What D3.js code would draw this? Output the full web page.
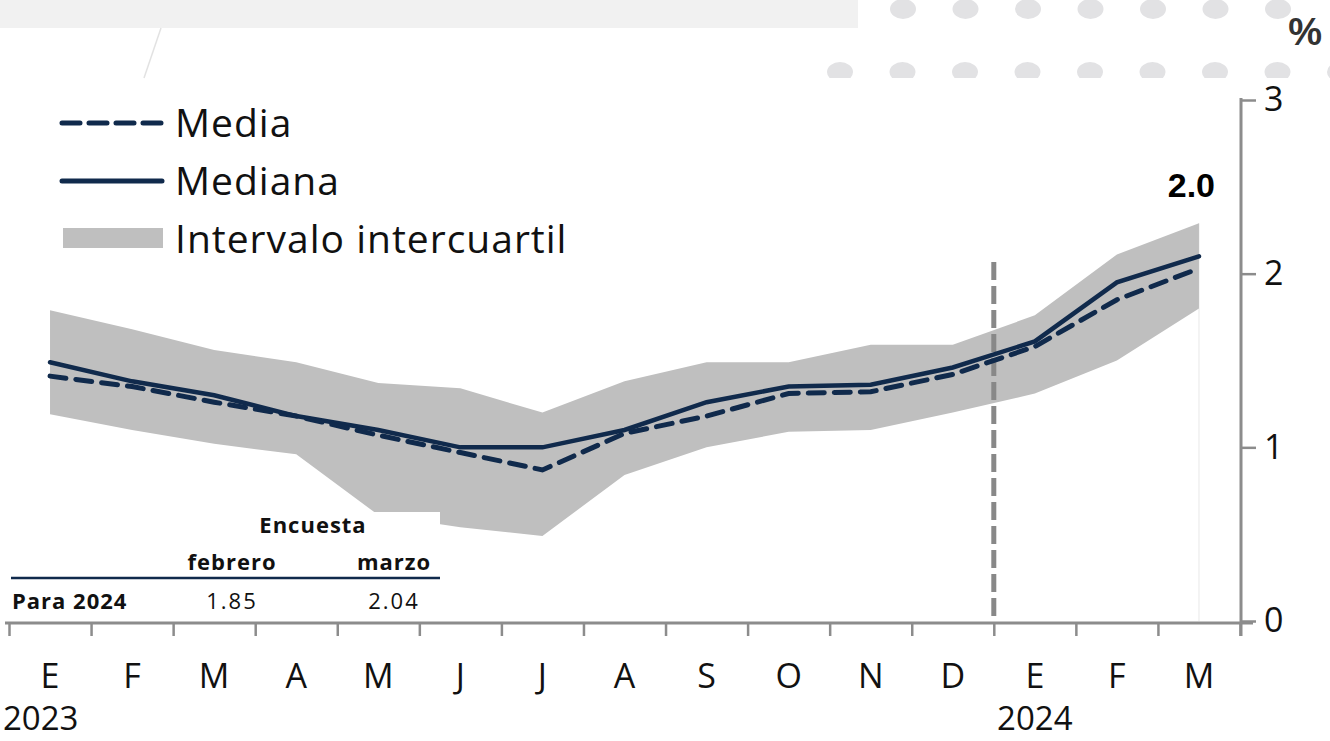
<!DOCTYPE html>
<html>
<head>
<meta charset="utf-8">
<script src="https://cdn.jsdelivr.net/npm/d3@7"></script>
<style>
  body { margin: 0; background: #fff; }
  svg { display: block; }
</style>
</head>
<body>
<div id="chart"></div>
<script>
// data
let months = ["E", "F", "M", "A", "M", "J", "J", "A", "S", "O", "N", "D", "E", "F", "M"];
let years = [{ label: "2023", idx: 0 }, { label: "2024", idx: 12 }];
let mediana = [1.49, 1.38, 1.30, 1.18, 1.10, 1.00, 1.00, 1.10, 1.26, 1.35, 1.36, 1.46, 1.61, 1.95, 2.10];
let media = [1.41, 1.35, 1.26, 1.18, 1.07, 0.97, 0.87, 1.08, 1.18, 1.31, 1.32, 1.42, 1.58, 1.85, 2.03];
let upper = [1.79, 1.68, 1.56, 1.49, 1.37, 1.34, 1.20, 1.38, 1.49, 1.49, 1.59, 1.59, 1.76, 2.11, 2.29];
let lower = [1.19, 1.10, 1.02, 0.96, 0.61, 0.54, 0.49, 0.84, 1.00, 1.09, 1.10, 1.20, 1.31, 1.50, 1.80];
let yTicks = [0, 1, 2, 3];
let tableCols = ["febrero", "marzo"];
let tableVals = ["1.85", "2.04"];
let lastLabel = "2.0";

let w = 1330;
let h = 741;
let navy = "#102a4c";
let axisGrey = "#8c8c8c";
let font = "'Open Sans', sans-serif";

let viz = d3.select("#chart")
  .append("svg")
  .attr("width", w)
  .attr("height", h);

// decorations at the top
viz.append("rect")
  .attr("x", 0).attr("y", 0)
  .attr("width", 858).attr("height", 28)
  .attr("fill", "#f1f1f1");
viz.append("line")
  .attr("x1", 161).attr("y1", 28)
  .attr("x2", 144).attr("y2", 78)
  .attr("stroke", "#e2e2e2")
  .attr("stroke-width", 1.5);
let dotRow1 = d3.range(7).map(function (i) { return 903 + i * 62.5; });
let dotRow2 = d3.range(9).map(function (i) { return 840 + i * 62.5; });
let dots = viz.append("g");
dots.selectAll(".d1").data(dotRow1).enter().append("ellipse")
  .attr("cx", function (d) { return d; }).attr("cy", 9)
  .attr("rx", 13).attr("ry", 10)
  .attr("fill", "#e2e2e4");
let dotClip = viz.append("clipPath").attr("id", "dotclip");
dotClip.append("rect").attr("x", 0).attr("y", 0).attr("width", w).attr("height", 78);
dots.selectAll(".d2").data(dotRow2).enter().append("ellipse")
  .attr("clip-path", "url(#dotclip)")
  .attr("cx", function (d) { return d; }).attr("cy", 72)
  .attr("rx", 13).attr("ry", 10)
  .attr("fill", "#e2e2e4");

// scales
let xScale = d3.scaleBand()
  .domain(d3.range(months.length))
  .range([9, 1240]);
let xEdge = d3.scaleLinear()
  .domain([0, months.length])
  .range([9, 1240]);
let yScale = d3.scaleLinear()
  .domain([0, 3])
  .range([621, 100]);
function xc(i) { return xScale(i) + xScale.bandwidth() / 2; }

// faint line at last month
viz.append("line")
  .attr("x1", xc(14)).attr("x2", xc(14))
  .attr("y1", yScale(upper[14])).attr("y2", yScale(0))
  .attr("stroke", "#f0f0f0")
  .attr("stroke-width", 1.5);

// interquartile band
let area = d3.area()
  .x(function (d, i) { return xc(i); })
  .y0(function (d, i) { return yScale(lower[i]); })
  .y1(function (d, i) { return yScale(upper[i]); });
viz.append("path")
  .datum(upper)
  .attr("d", area)
  .attr("fill", "#bfbfbf");

// separator between years
viz.append("line")
  .attr("x1", xEdge(12)).attr("x2", xEdge(12))
  .attr("y1", 262).attr("y2", yScale(0) - 4)
  .attr("stroke", "#888")
  .attr("stroke-width", 5)
  .attr("stroke-dasharray", "18,6");

let line = d3.line()
  .x(function (d, i) { return xc(i); })
  .y(function (d) { return yScale(d); });
viz.append("path")
  .datum(mediana)
  .attr("d", line)
  .attr("fill", "none")
  .attr("stroke", navy)
  .attr("stroke-width", 4.5)
  .attr("stroke-linecap", "round");
viz.append("path")
  .datum(media)
  .attr("d", line)
  .attr("fill", "none")
  .attr("stroke", navy)
  .attr("stroke-width", 5)
  .attr("stroke-dasharray", "16,10")
  .attr("stroke-linecap", "round");

// value label
viz.append("text")
  .attr("x", 1215).attr("y", 197)
  .attr("text-anchor", "end")
  .attr("font-family", "'Liberation Sans', Arial, sans-serif")
  .attr("font-weight", "bold")
  .attr("font-size", 34)
  .attr("fill", "#000")
  .text(lastLabel);

// x axis: boundary ticks
let xAxis = d3.axisBottom(xEdge)
  .tickValues(d3.range(months.length + 1))
  .tickFormat("")
  .tickSize(13)
  .tickSizeOuter(0);
let xAxisGroup = viz.append("g")
  .attr("transform", "translate(0,623)")
  .call(xAxis);
xAxisGroup.select(".domain")
  .attr("d", "M5,0H1253")
  .attr("stroke", axisGrey)
  .attr("stroke-width", 3);
xAxisGroup.selectAll(".tick line")
  .attr("stroke", axisGrey)
  .attr("stroke-width", 2.5);

// month labels
let xLabels = d3.axisBottom(xScale)
  .tickSize(0)
  .tickFormat(function (d) { return months[d]; });
let xLabelGroup = viz.append("g")
  .attr("transform", "translate(0,661)")
  .call(xLabels);
xLabelGroup.select(".domain").remove();
xLabelGroup.selectAll("text")
  .attr("font-family", font)
  .attr("font-size", 34)
  .attr("fill", "#111");

// year labels
viz.selectAll(".year").data(years).enter().append("text")
  .attr("class", "year")
  .attr("x", function (d) { return d.idx == 0 ? 3 : xc(d.idx); })
  .attr("y", 730)
  .attr("text-anchor", function (d) { return d.idx == 0 ? "start" : "middle"; })
  .attr("font-family", font)
  .attr("font-size", 33)
  .attr("fill", "#111")
  .text(function (d) { return d.label; });

// y axis on the right
let yAxis = d3.axisRight(yScale)
  .tickValues(yTicks)
  .tickFormat(d3.format("d"))
  .tickSize(15)
  .tickSizeOuter(0)
  .tickPadding(8);
let yAxisGroup = viz.append("g")
  .attr("transform", "translate(1241,0)")
  .call(yAxis);
yAxisGroup.select(".domain")
  .attr("d", "M0,98V636")
  .attr("stroke", axisGrey)
  .attr("stroke-width", 3);
yAxisGroup.selectAll(".tick line")
  .attr("stroke", axisGrey)
  .attr("stroke-width", 2.5);
yAxisGroup.selectAll("text")
  .attr("font-family", font)
  .attr("font-size", 34)
  .attr("fill", "#111");

viz.append("text")
  .attr("x", 1322).attr("y", 45)
  .attr("text-anchor", "end")
  .attr("font-family", "'Liberation Sans', Arial, sans-serif")
  .attr("font-weight", "bold")
  .attr("font-size", 38)
  .attr("fill", "#333")
  .text("%");

// legend
let legend = viz.append("g");
legend.append("line")
  .attr("x1", 62).attr("x2", 162).attr("y1", 123).attr("y2", 123)
  .attr("stroke", navy).attr("stroke-width", 5)
  .attr("stroke-dasharray", "18,9")
  .attr("stroke-linecap", "round");
legend.append("line")
  .attr("x1", 62).attr("x2", 162).attr("y1", 181).attr("y2", 181)
  .attr("stroke", navy).attr("stroke-width", 5)
  .attr("stroke-linecap", "round");
legend.append("rect")
  .attr("x", 63).attr("y", 228).attr("width", 100).attr("height", 20)
  .attr("fill", "#bfbfbf");
let legendNames = ["Media", "Mediana", "Intervalo intercuartil"];
legend.selectAll(".lt").data(legendNames).enter().append("text")
  .attr("x", 175)
  .attr("y", function (d, i) { return 137 + i * 58; })
  .attr("font-family", font)
  .attr("font-size", 39)
  .attr("letter-spacing", 1)
  .attr("fill", "#111")
  .text(function (d) { return d; });

// small table
let table = viz.append("g");
table.append("rect")
  .attr("x", 0).attr("y", 512).attr("width", 440).attr("height", 100)
  .attr("fill", "#fff");
table.append("text")
  .attr("x", 313).attr("y", 533)
  .attr("text-anchor", "middle")
  .attr("font-family", font).attr("font-weight", "bold").attr("font-size", 22)
  .attr("letter-spacing", 1)
  .attr("fill", "#111")
  .text("Encuesta");
let colX = [232, 394];
table.selectAll(".col").data(tableCols).enter().append("text")
  .attr("x", function (d, i) { return colX[i]; })
  .attr("y", 570)
  .attr("text-anchor", "middle")
  .attr("font-family", font).attr("font-weight", "bold").attr("font-size", 22)
  .attr("letter-spacing", 1)
  .attr("fill", "#111")
  .text(function (d) { return d; });
table.append("line")
  .attr("x1", 11).attr("x2", 440).attr("y1", 578).attr("y2", 578)
  .attr("stroke", navy).attr("stroke-width", 2.5);
table.append("text")
  .attr("x", 12).attr("y", 609)
  .attr("font-family", font).attr("font-weight", "bold").attr("font-size", 22)
  .attr("letter-spacing", 1)
  .attr("fill", "#111")
  .text("Para 2024");
table.selectAll(".val").data(tableVals).enter().append("text")
  .attr("x", function (d, i) { return colX[i]; })
  .attr("y", 609)
  .attr("text-anchor", "middle")
  .attr("font-family", font).attr("font-size", 22)
  .attr("letter-spacing", 2)
  .attr("fill", "#111")
  .text(function (d) { return d; });
</script>
</body>
</html>
